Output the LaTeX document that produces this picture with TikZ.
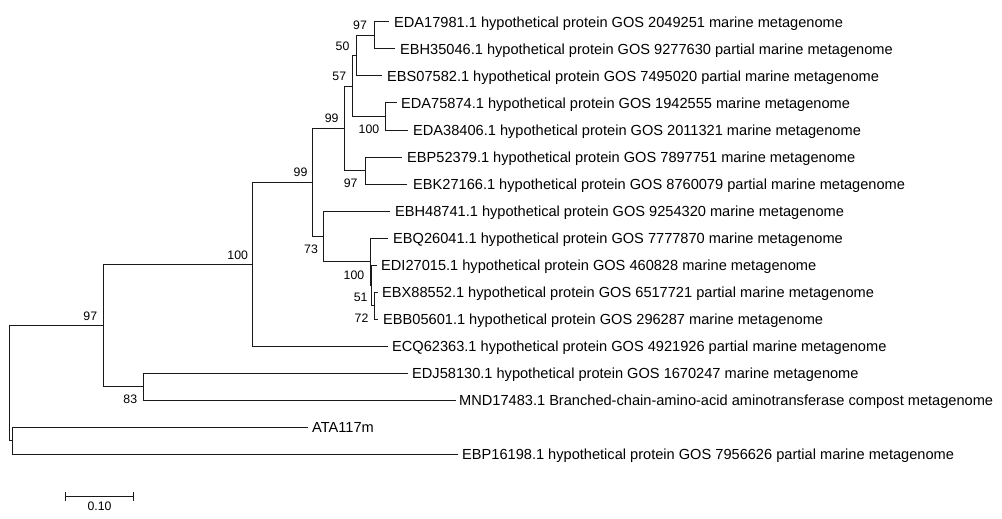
\documentclass[tikz,border=0pt]{standalone}
\usepackage{fontspec}
\setmainfont{Liberation Sans}
\usetikzlibrary{calc}
\begin{document}
\begin{tikzpicture}[x=1pt,y=-1pt,
  branch/.style={line width=1pt, draw=black!90},
  leaf/.style={font=\fontsize{14.6}{17}\selectfont, inner sep=0pt, text height=10.4pt, text depth=0pt, anchor=west},
  boot/.style={font=\fontsize{12.3}{14}\selectfont, inner sep=0pt},
  scalelab/.style={font=\fontsize{12.3}{14}\selectfont, inner sep=0pt}]
\useasboundingbox[fill=white] (0,0) rectangle (1002,519);
% internal nodes
\coordinate (A) at (374,35.5);
\coordinate (B) at (356,55.75);
\coordinate (D) at (385,116.5);
\coordinate (C) at (352,86.1);
\coordinate (F) at (365,170.5);
\coordinate (E) at (344,128.3);
\coordinate (K) at (374,305.5);
\coordinate (J) at (371.7,285.25);
\coordinate (I) at (370,261.6);
\coordinate (H) at (323,236.3);
\coordinate (G) at (312,182.3);
\coordinate (M) at (252,264.2);
\coordinate (N) at (143,386.5);
\coordinate (P) at (103,325.3);
\coordinate (R) at (12,440.5);
\coordinate (Q) at (9,382.9);
% leaf ends
\coordinate (e1) at (389,22);
\coordinate (e2) at (395,49);
\coordinate (e3) at (382,76);
\coordinate (e4) at (397,103);
\coordinate (e5) at (408,130);
\coordinate (e6) at (402,157);
\coordinate (e7) at (407,184);
\coordinate (e8) at (390,211);
\coordinate (e9) at (388,238);
\coordinate (e10) at (377,265);
\coordinate (e11) at (378,292);
\coordinate (e12) at (378,319);
\coordinate (e13) at (388,346);
\coordinate (e14) at (408,373);
\coordinate (e15) at (456,400);
\coordinate (e16) at (308,427);
\coordinate (e17) at (458,454);
% leaf labels
\node[leaf] (l1) at (394,22) {EDA17981.1 hypothetical protein GOS 2049251 marine metagenome};
\node[leaf] (l2) at (400,49) {EBH35046.1 hypothetical protein GOS 9277630 partial marine metagenome};
\node[leaf] (l3) at (387,76) {EBS07582.1 hypothetical protein GOS 7495020 partial marine metagenome};
\node[leaf] (l4) at (401,103) {EDA75874.1 hypothetical protein GOS 1942555 marine metagenome};
\node[leaf] (l5) at (413,130) {EDA38406.1 hypothetical protein GOS 2011321 marine metagenome};
\node[leaf] (l6) at (407,157) {EBP52379.1 hypothetical protein GOS 7897751 marine metagenome};
\node[leaf] (l7) at (413,184) {EBK27166.1 hypothetical protein GOS 8760079 partial marine metagenome};
\node[leaf] (l8) at (395,211) {EBH48741.1 hypothetical protein GOS 9254320 marine metagenome};
\node[leaf] (l9) at (393,238) {EBQ26041.1 hypothetical protein GOS 7777870 marine metagenome};
\node[leaf] (l10) at (381,265) {EDI27015.1 hypothetical protein GOS 460828 marine metagenome};
\node[leaf] (l11) at (382,292) {EBX88552.1 hypothetical protein GOS 6517721 partial marine metagenome};
\node[leaf] (l12) at (383,319) {EBB05601.1 hypothetical protein GOS 296287 marine metagenome};
\node[leaf] (l13) at (392,346) {ECQ62363.1 hypothetical protein GOS 4921926 partial marine metagenome};
\node[leaf] (l14) at (412,373) {EDJ58130.1 hypothetical protein GOS 1670247 marine metagenome};
\node[leaf] (l15) at (459,400) {MND17483.1 Branched-chain-amino-acid aminotransferase compost metagenome};
\node[leaf] (l16) at (312,427) {ATA117m};
\node[leaf] (l17) at (462,454) {EBP16198.1 hypothetical protein GOS 7956626 partial marine metagenome};
% branches
\draw[branch] (A) |- (e1);
\draw[branch] (A) |- (e2);
\draw[branch] (B) |- (A);
\draw[branch] (B) |- (e3);
\draw[branch] (D) |- (e4);
\draw[branch] (D) |- (e5);
\draw[branch] (C) |- (B);
\draw[branch] (C) |- (D);
\draw[branch] (F) |- (e6);
\draw[branch] (F) |- (e7);
\draw[branch] (E) |- (C);
\draw[branch] (E) |- (F);
\draw[branch] (K) |- (e11);
\draw[branch] (K) |- (e12);
\draw[branch] (J) |- (e10);
\draw[branch] (J) |- (K);
\draw[branch] (I) |- (e9);
\draw[branch] (I) |- (J);
\draw[branch] (H) |- (e8);
\draw[branch] (H) |- (I);
\draw[branch] (G) |- (E);
\draw[branch] (G) |- (H);
\draw[branch] (M) |- (G);
\draw[branch] (M) |- (e13);
\draw[branch] (N) |- (e14);
\draw[branch] (N) |- (e15);
\draw[branch] (P) |- (M);
\draw[branch] (P) |- (N);
\draw[branch] (R) |- (e16);
\draw[branch] (R) |- (e17);
\draw[branch] (Q) |- (P);
\draw[branch] (Q) |- (R);
% bootstrap values
\node[boot] (bA) at (360,25) {97};
\node[boot] (bB) at (342.5,46) {50};
\node[boot] (bC) at (339.3,76.7) {57};
\node[boot] (bD) at (369,129.3) {100};
\node[boot] (bE) at (331.7,118.3) {99};
\node[boot] (bF) at (350.7,183.3) {97};
\node[boot] (bG) at (300.5,172.7) {99};
\node[boot] (bH) at (311,249.3) {73};
\node[boot] (bI) at (354,275) {100};
\node[boot] (bK) at (360.7,297) {51};
\node[boot] (bJ) at (361.5,318) {72};
\node[boot] (bM) at (237.7,255) {100};
\node[boot] (bP) at (90.3,316) {97};
\node[boot] (bN) at (130.3,399) {83};
% scale bar
\coordinate (s1) at (65.7,496);
\coordinate (s2) at (133.3,496);
\draw[branch] (s1) -- (s2);
\draw[branch] ($(s1)+(0,-4.5)$) -- ($(s1)+(0,4.5)$);
\draw[branch] ($(s2)+(0,-4.5)$) -- ($(s2)+(0,4.5)$);
\node[scalelab] (sl) at (99.5,506.7) {0.10};
\end{tikzpicture}
\end{document}
